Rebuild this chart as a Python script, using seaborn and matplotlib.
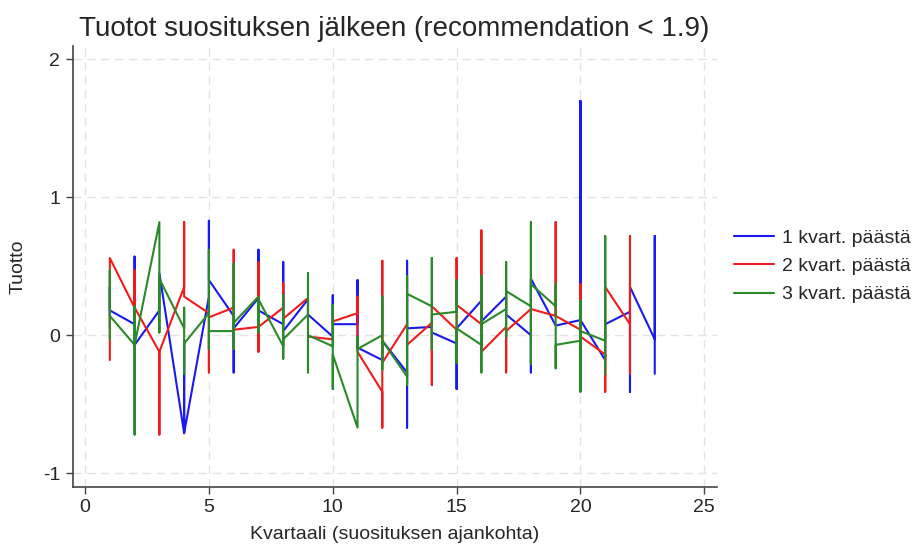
import numpy as np
import pandas as pd
import matplotlib
matplotlib.use("Agg")
import matplotlib.pyplot as plt
import seaborn as sns

# Havainnot kvartaaleittain: jokainen lista on yhden kvartaalin tuotot
# siinä järjestyksessä kuin viiva ne kulkee
series_names = ["1 kvart. päästä", "2 kvart. päästä", "3 kvart. päästä"]
series_colors = ["#1a1aee", "#f01c1c", "#2a8a2a"]

quarters_1 = list(range(1, 24))
returns_1 = [
    [0.05, 0.35, 0.18], [0.08, 0.57, -0.05, -0.07], [0.18, 0.45],
    [-0.71, -0.05, -0.71], [0.28, 0.83, 0.40], [0.14, -0.27, 0.05],
    [0.27, 0.62, 0.18], [0.08, 0.53, 0.03], [0.26, 0.15],
    [-0.01, 0.29, 0.08], [0.08, 0.40, -0.09], [-0.18, -0.04],
    [-0.27, -0.67, 0.54, 0.05], [0.06, 0.02], [-0.06, -0.39, 0.05],
    [0.25, 0.10], [0.28, 0.15], [0.00, -0.27, 0.41], [0.07],
    [0.11, 1.70, 0.11], [-0.18, 0.08], [0.17, -0.41, 0.35],
    [-0.03, 0.72, -0.28],
]

quarters_2 = list(range(1, 23))
returns_2 = [
    [-0.18, 0.56], [0.20, 0.47, 0.20], [-0.12, -0.72, -0.12],
    [0.35, 0.82, 0.28], [0.16, -0.27, 0.13], [0.20, 0.62, 0.04],
    [0.06, 0.53, -0.12, 0.06], [0.20, 0.38, 0.12], [0.27, -0.01],
    [-0.03, 0.10], [0.16, 0.28, -0.12], [-0.41, -0.67, 0.54, -0.20],
    [0.08, -0.07], [0.09, -0.36, 0.21], [0.04, 0.56, 0.22],
    [0.08, 0.76, -0.12], [0.06, -0.27, 0.03], [0.19],
    [0.14, 0.82, 0.14], [0.04, 0.37, -0.01], [-0.14, -0.41, 0.35],
    [0.08, 0.72, -0.28],
]

quarters_3 = list(range(1, 22))
returns_3 = [
    [-0.03, 0.47, 0.14], [-0.07, 0.21, -0.72, -0.07], [0.82, 0.02, 0.41],
    [0.05, 0.20, -0.28, -0.06], [0.16, 0.62, -0.10, 0.03],
    [0.03, 0.52, -0.10, 0.09], [0.28, 0.02, 0.26],
    [-0.08, 0.29, -0.17, -0.03], [0.15, 0.45, -0.27, 0.00],
    [-0.08, 0.22, -0.39, -0.14], [-0.67, -0.01, -0.10],
    [0.00, 0.28, -0.25, -0.04], [-0.30, 0.43, -0.36, 0.30],
    [0.21, 0.56, -0.10, 0.15], [0.17, 0.40, -0.20, 0.05],
    [-0.07, 0.43, -0.27, 0.08], [0.19, 0.53, -0.01, 0.32],
    [0.21, 0.82, -0.21, 0.37], [0.21, 0.37, -0.24, -0.07],
    [-0.04, 0.25, -0.41, 0.03], [-0.04, 0.72, -0.28],
]

x_ticks = [0, 5, 10, 15, 20, 25]
y_ticks = [-1, 0, 1, 2]


def build_frame():
    """Kokoaa pitkän taulukon seabornia varten."""
    rows = []
    for name, qs, rets in zip(series_names,
                              [quarters_1, quarters_2, quarters_3],
                              [returns_1, returns_2, returns_3]):
        for q, vals in zip(qs, rets):
            for v in vals:
                rows.append({"sarja": name, "kvartaali": q, "tuotto": v})
    return pd.DataFrame(rows)


df = build_frame()

sns.set_theme(style="white")
plt.rcParams["font.family"] = ["Liberation Sans", "DejaVu Sans"]

fig = plt.figure(figsize=(9.2, 5.44), dpi=100)
ax = fig.add_axes([0.079, 0.105, 0.700, 0.811])

# estimator=None + sort=False -> viiva kulkee havainnot datan järjestyksessä
sns.lineplot(data=df, x="kvartaali", y="tuotto", hue="sarja",
             hue_order=series_names, palette=series_colors,
             estimator=None, sort=False, linewidth=1.5, ax=ax)

ax.set_xlim(-0.5, 25.5)
ax.set_ylim(-1.1, 2.1)
ax.set_xticks(x_ticks)
ax.set_yticks(y_ticks)
ax.set_yticklabels([str(t) for t in y_ticks])

ax.grid(True, color="#e3e3e3", linestyle=(0, (6, 4)), linewidth=1.0)
for side in ["top", "right"]:
    ax.spines[side].set_visible(False)
for side in ["left", "bottom"]:
    ax.spines[side].set_color("#444444")
    ax.spines[side].set_linewidth(1.2)

ax.tick_params(axis="both", which="major", direction="out", length=5,
               width=1.0, color="#444444", labelsize=14, pad=4, left=True, bottom=True)

ax.set_xlabel("Kvartaali (suosituksen ajankohta)", fontsize=14, labelpad=7)
ax.set_ylabel("Tuotto", fontsize=14, labelpad=12)
ax.set_title("Tuotot suosituksen jälkeen (recommendation < 1.9)", fontsize=20, pad=7)

ax.legend(title=None, loc="center left", bbox_to_anchor=(1.0155, 0.5),
          borderaxespad=0, frameon=False, fontsize=14, handlelength=2.05,
          handletextpad=0.4, labelspacing=0.55)

fig.savefig("out.png", dpi=100)
